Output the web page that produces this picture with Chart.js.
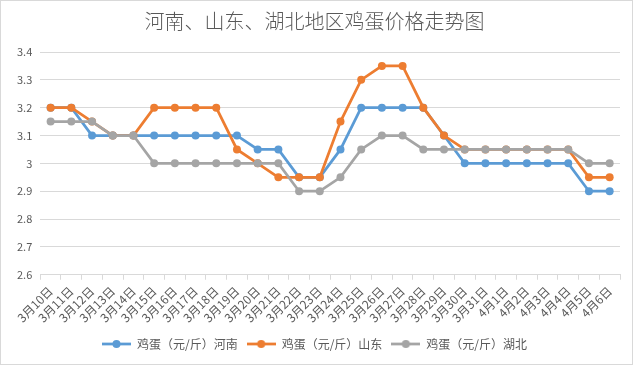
<!DOCTYPE html>
<html>
<head>
<meta charset="utf-8">
<script src="https://cdn.jsdelivr.net/npm/chart.js@4/dist/chart.umd.min.js"></script>
<style>
  html, body { margin: 0; padding: 0; background: #fff; }
  .box { width: 631px; height: 363px; border: 1px solid #d9d9d9; }
</style>
</head>
<body>
<div class="box"><canvas id="c" width="631" height="363"></canvas></div>
<script>
const days = ['3月10日','3月11日','3月12日','3月13日','3月14日','3月15日','3月16日','3月17日','3月18日','3月19日',
  '3月20日','3月21日','3月22日','3月23日','3月24日','3月25日','3月26日','3月27日','3月28日','3月29日',
  '3月30日','3月31日','4月1日','4月2日','4月3日','4月4日','4月5日','4月6日'];

const henan = [3.2, 3.2, 3.1, 3.1, 3.1, 3.1, 3.1, 3.1, 3.1, 3.1, 3.05, 3.05, 2.95, 2.95, 3.05, 3.2, 3.2, 3.2, 3.2, 3.1,
  3.0, 3.0, 3.0, 3.0, 3.0, 3.0, 2.9, 2.9];
const shandong = [3.2, 3.2, 3.15, 3.1, 3.1, 3.2, 3.2, 3.2, 3.2, 3.05, 3.0, 2.95, 2.95, 2.95, 3.15, 3.3, 3.35, 3.35, 3.2, 3.1,
  3.05, 3.05, 3.05, 3.05, 3.05, 3.05, 2.95, 2.95];
const hubei = [3.15, 3.15, 3.15, 3.1, 3.1, 3.0, 3.0, 3.0, 3.0, 3.0, 3.0, 3.0, 2.9, 2.9, 2.95, 3.05, 3.1, 3.1, 3.05, 3.05,
  3.05, 3.05, 3.05, 3.05, 3.05, 3.05, 3.0, 3.0];

const seriesNames = ['鸡蛋（元/斤）河南', '鸡蛋（元/斤）山东', '鸡蛋（元/斤）湖北'];
const colors = ['#5b9bd5', '#ed7d31', '#a5a5a5'];

const font = '"Noto Sans CJK SC", "Noto Sans", sans-serif';

// little line-with-dot marker for the legend
function legendMark(color) {
  const cv = document.createElement('canvas');
  cv.width = 29; cv.height = 10;
  const g = cv.getContext('2d');
  g.strokeStyle = color;
  g.lineWidth = 2.75;
  g.beginPath(); g.moveTo(0, 5); g.lineTo(29, 5); g.stroke();
  g.fillStyle = color;
  g.beginPath(); g.arc(14.5, 5, 4, 0, Math.PI * 2); g.fill();
  return cv;
}

// later series sit on top, like in the excel chart
const makeSet = (i, data) => ({
  label: seriesNames[i],
  data: data,
  order: 3 - i,
  borderColor: colors[i],
  backgroundColor: colors[i],
  borderWidth: 2.75,
  pointRadius: 4,
  pointHoverRadius: 4,
  pointBorderWidth: 0,
  tension: 0,
  pointStyle: 'circle',
});

new Chart(document.getElementById('c'), {
  type: 'line',
  data: {
    labels: days,
    datasets: [makeSet(0, henan), makeSet(1, shandong), makeSet(2, hubei)],
  },
  options: {
    responsive: false,
    animation: false,
    layout: { padding: { left: 8, right: 12, top: 4, bottom: 4 } },
    plugins: {
      title: {
        display: true,
        text: '河南、山东、湖北地区鸡蛋价格走势图',
        color: '#595959',
        font: { family: font, size: 20, weight: 300 },
        padding: { top: 4, bottom: 19 },
      },
      legend: {
        position: 'bottom',
        labels: {
          usePointStyle: true,
          pointStyleWidth: 29,
          color: '#595959',
          font: { family: font, size: 12 },
          padding: 9,
          generateLabels: (chart) => chart.data.datasets.map((ds, i) => ({
            text: ds.label,
            fillStyle: colors[i],
            strokeStyle: colors[i],
            lineWidth: 0,
            pointStyle: legendMark(colors[i]),
            datasetIndex: i,
            fontColor: '#595959',
          })),
        },
      },
      tooltip: { enabled: false },
    },
    scales: {
      x: {
        offset: true,
        grid: { display: true, drawOnChartArea: false, offset: true, tickLength: 5, color: '#d9d9d9' },
        border: { color: '#d9d9d9' },
        ticks: {
          autoSkip: false,
          minRotation: 45,
          maxRotation: 45,
          color: '#595959',
          font: { family: font, size: 12 },
          padding: 4,
        },
      },
      y: {
        min: 2.6,
        max: 3.4,
        ticks: {
          stepSize: 0.1,
          color: '#595959',
          font: { family: font, size: 11 },
          padding: 8,
          callback: (v) => String(+v.toFixed(1)),
        },
        grid: { color: '#d9d9d9', drawTicks: false },
        border: { display: false },
      },
    },
  },
});
</script>
</body>
</html>
